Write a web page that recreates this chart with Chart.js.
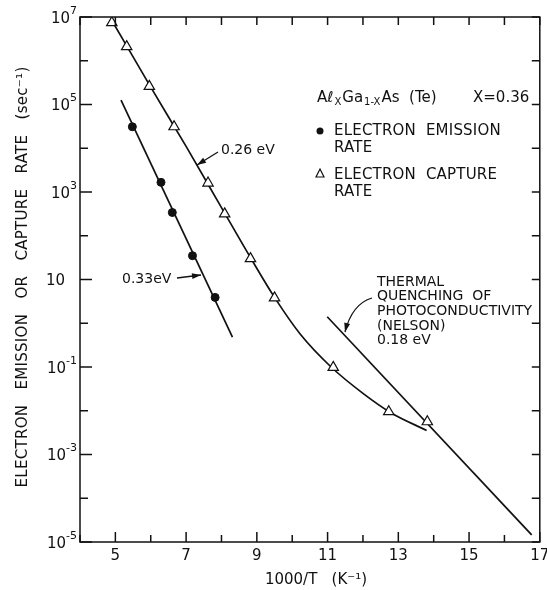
<!DOCTYPE html>
<html>
<head>
<meta charset="utf-8">
<script src="https://cdn.jsdelivr.net/npm/chart.js@4/dist/chart.umd.min.js"></script>
<style>
  html, body { margin: 0; padding: 0; background: #fff; }
</style>
</head>
<body>
<canvas id="myChart" width="547" height="590"></canvas>
<script>
// eje x: 1000/T (K^-1)
const xTicks = [4, 5, 6, 7, 8, 9, 10, 11, 12, 13, 14, 15, 16, 17];
const xLabeled = [5, 7, 9, 11, 13, 15, 17];
// eje y: decadas de la tasa (sec^-1)
const yExponents = [-5, -4, -3, -2, -1, 0, 1, 2, 3, 4, 5, 6, 7];
const yLabelBase = ['10', '', '10', '', '10', '', '10', '', '10', '', '10', '', '10'];
const yLabelSup = ['-5', '', '-3', '', '-1', '', '', '', '3', '', '5', '', '7'];

// tasa de emision (circulos llenos)
const emisionX = [5.48, 6.29, 6.61, 7.18, 7.82];
const emisionY = [3.1e4, 1.66e3, 340, 35, 3.9];
// recta 0.33 eV
const rectaEmisionX = [5.16, 8.31];
const rectaEmisionY = [1.26e5, 0.48];

// tasa de captura (triangulos)
const capturaX = [4.90, 5.32, 5.96, 6.66, 7.62, 8.09, 8.82, 9.50, 11.16, 12.73, 13.82];
const capturaY = [7.4e6, 2.1e6, 2.6e5, 3.1e4, 1.6e3, 316, 30, 3.8, 0.098, 0.0095, 0.0056];
// curva 0.26 eV
const curvaCapturaX = [4.88, 6.0, 7.0, 8.0, 8.82, 9.5, 10.23, 11.1, 12.0, 12.8, 13.8];
const curvaCapturaY = [8.9e6, 2.5e5, 1.1e4, 440, 31.6, 3.9, 0.56, 0.1, 0.025, 0.0089, 0.00355];

// apagado termico de fotoconductividad (Nelson) 0.18 eV
const nelsonX = [10.99, 16.77];
const nelsonY = [1.41, 1.45e-5];

const FUENTE = '"DejaVu Sans", sans-serif';
const NEGRO = '#111';

function puntos(xs, ys) {
    return xs.map((x, i) => ({ x: x, y: ys[i] }));
}

function linea(ctx, x1, y1, x2, y2) {
    ctx.beginPath();
    ctx.moveTo(x1, y1);
    ctx.lineTo(x2, y2);
    ctx.stroke();
}

function cabeza(ctx, fromX, fromY, x, y) {
    const ang = Math.atan2(y - fromY, x - fromX);
    const l = 9, w = 3;
    ctx.beginPath();
    ctx.moveTo(x, y);
    ctx.lineTo(x - l * Math.cos(ang) + w * Math.sin(ang), y - l * Math.sin(ang) - w * Math.cos(ang));
    ctx.lineTo(x - l * Math.cos(ang) - w * Math.sin(ang), y - l * Math.sin(ang) + w * Math.cos(ang));
    ctx.closePath();
    ctx.fill();
}

function flecha(ctx, x1, y1, x2, y2) {
    linea(ctx, x1, y1, x2, y2);
    cabeza(ctx, x1, y1, x2, y2);
}

const marcoPlugin = {
    id: 'marco',
    afterDraw(chart) {
        const { ctx, chartArea: a, scales: { x, y } } = chart;
        ctx.save();
        ctx.strokeStyle = NEGRO;
        ctx.fillStyle = NEGRO;
        ctx.lineWidth = 1.5;
        ctx.strokeRect(a.left, a.top, a.right - a.left, a.bottom - a.top);

        // marcas hacia adentro
        xTicks.forEach(v => {
            const px = x.getPixelForValue(v);
            const largo = xLabeled.includes(v) ? 10 : 7;
            linea(ctx, px, a.bottom, px, a.bottom - largo);
            linea(ctx, px, a.top, px, a.top + 8);
        });
        yExponents.forEach((e, i) => {
            const py = y.getPixelForValue(Math.pow(10, e));
            const largo = yLabelBase[i] ? 12 : 8;
            linea(ctx, a.left, py, a.left + largo, py);
            linea(ctx, a.right, py, a.right - 8, py);
        });

        // etiquetas del eje y con exponente
        ctx.textBaseline = 'middle';
        yExponents.forEach((e, i) => {
            if (!yLabelBase[i]) return;
            const py = y.getPixelForValue(Math.pow(10, e));
            ctx.font = '11px ' + FUENTE;
            const sup = yLabelSup[i];
            const wSup = sup ? ctx.measureText(sup).width : 0;
            const derecha = sup ? a.left - 3 : a.left - 15;
            ctx.textAlign = 'right';
            if (sup) ctx.fillText(sup, derecha, py - 6);
            ctx.font = '15px ' + FUENTE;
            ctx.fillText(yLabelBase[i], derecha - wSup, py + 2);
        });

        // titulos de ejes
        ctx.font = '15px ' + FUENTE;
        ctx.textAlign = 'center';
        ctx.fillText('1000/T   (K⁻¹)', 316, 580);
        ctx.save();
        ctx.translate(23, 277);
        ctx.rotate(-Math.PI / 2);
        ctx.letterSpacing = '0.3px';
        ctx.fillText('ELECTRON   EMISSION   OR   CAPTURE   RATE   (sec⁻¹)', 0, 0);
        ctx.restore();

        // leyenda
        ctx.textAlign = 'left';
        let cx = 317;
        const partes = [
            ['Aℓ', 15, 0], ['X', 10, 4], ['Ga', 15, 0], ['1-X', 10, 4], ['As  (Te)', 15, 0]
        ];
        partes.forEach(p => {
            ctx.font = p[1] + 'px ' + FUENTE;
            ctx.fillText(p[0], cx, 98 + p[2]);
            cx += ctx.measureText(p[0]).width + 1;
        });
        ctx.font = '15px ' + FUENTE;
        ctx.fillText('X=0.36', 473, 98);

        ctx.beginPath();
        ctx.arc(320, 131, 3.5, 0, Math.PI * 2);
        ctx.fill();
        ctx.letterSpacing = '0.2px';
        ctx.fillText('ELECTRON  EMISSION', 334, 131);
        ctx.fillText('RATE', 334, 148);

        ctx.lineWidth = 1.2;
        ctx.beginPath();
        ctx.moveTo(320, 169);
        ctx.lineTo(324, 177);
        ctx.lineTo(316, 177);
        ctx.closePath();
        ctx.stroke();
        ctx.fillText('ELECTRON  CAPTURE', 334, 175);
        ctx.fillText('RATE', 334, 192);
        ctx.letterSpacing = '0px';

        // anotaciones de energias
        ctx.lineWidth = 1.3;
        ctx.font = '14px ' + FUENTE;
        ctx.fillText('0.26 eV', 221, 150);
        flecha(ctx, 218, 152, 197, 165);

        ctx.fillText('0.33eV', 122, 279);
        flecha(ctx, 177, 278, 201, 275);

        const nelson = ['THERMAL', 'QUENCHING  OF', 'PHOTOCONDUCTIVITY', '(NELSON)', '0.18 eV'];
        ctx.font = '14px ' + FUENTE;
        nelson.forEach((t, i) => ctx.fillText(t, 377, 282 + i * 14.7));
        ctx.beginPath();
        ctx.moveTo(372, 298);
        ctx.quadraticCurveTo(352, 304, 345, 332);
        ctx.stroke();
        cabeza(ctx, 350, 312, 345, 332);

        ctx.restore();
    }
};

const datasets = [
    {
        label: 'Electron emission rate',
        data: puntos(emisionX, emisionY),
        showLine: false,
        pointStyle: 'circle',
        pointRadius: 4,
        pointBackgroundColor: NEGRO,
        pointBorderColor: NEGRO,
        order: 0
    },
    {
        label: 'Electron capture rate',
        data: puntos(capturaX, capturaY),
        showLine: false,
        pointStyle: 'triangle',
        pointRadius: 6,
        pointBackgroundColor: '#fff',
        pointBorderColor: NEGRO,
        pointBorderWidth: 1.2,
        order: 0
    },
    {
        label: '0.33 eV',
        data: puntos(rectaEmisionX, rectaEmisionY),
        showLine: true,
        pointRadius: 0,
        borderColor: NEGRO,
        borderWidth: 1.7,
        order: 1
    },
    {
        label: '0.26 eV',
        data: puntos(curvaCapturaX, curvaCapturaY),
        showLine: true,
        pointRadius: 0,
        borderColor: NEGRO,
        borderWidth: 1.7,
        cubicInterpolationMode: 'monotone',
        order: 1
    },
    {
        label: 'Nelson 0.18 eV',
        data: puntos(nelsonX, nelsonY),
        showLine: true,
        pointRadius: 0,
        borderColor: NEGRO,
        borderWidth: 1.7,
        order: 1
    }
];

Chart.defaults.font.family = FUENTE;
Chart.defaults.color = NEGRO;

new Chart(document.getElementById('myChart'), {
    type: 'scatter',
    data: { datasets: datasets },
    options: {
        responsive: false,
        animation: false,
        devicePixelRatio: 1,
        layout: { padding: { top: 17, right: 6, left: 0, bottom: 0 } },
        plugins: {
            legend: { display: false },
            tooltip: { enabled: false }
        },
        scales: {
            x: {
                type: 'linear',
                min: 4,
                max: 17,
                grid: { display: false, drawTicks: false },
                border: { display: false },
                afterBuildTicks: (scale) => { scale.ticks = xTicks.map(v => ({ value: v })); },
                ticks: {
                    padding: 5,
                    maxRotation: 0,
                    autoSkip: false,
                    font: { size: 15 },
                    callback: (v) => xLabeled.includes(v) ? String(v) : ''
                },
                afterFit: (scale) => { scale.height = 48; scale.paddingLeft = 0; scale.paddingRight = 0; }
            },
            y: {
                type: 'logarithmic',
                min: 1e-5,
                max: 1e7,
                grid: { display: false, drawTicks: false },
                border: { display: false },
                afterBuildTicks: (scale) => { scale.ticks = yExponents.map(e => ({ value: Math.pow(10, e) })); },
                ticks: { display: false },
                afterFit: (scale) => { scale.width = 80; scale.paddingTop = 0; scale.paddingBottom = 0; }
            }
        }
    },
    plugins: [marcoPlugin]
});
</script>
</body>
</html>
